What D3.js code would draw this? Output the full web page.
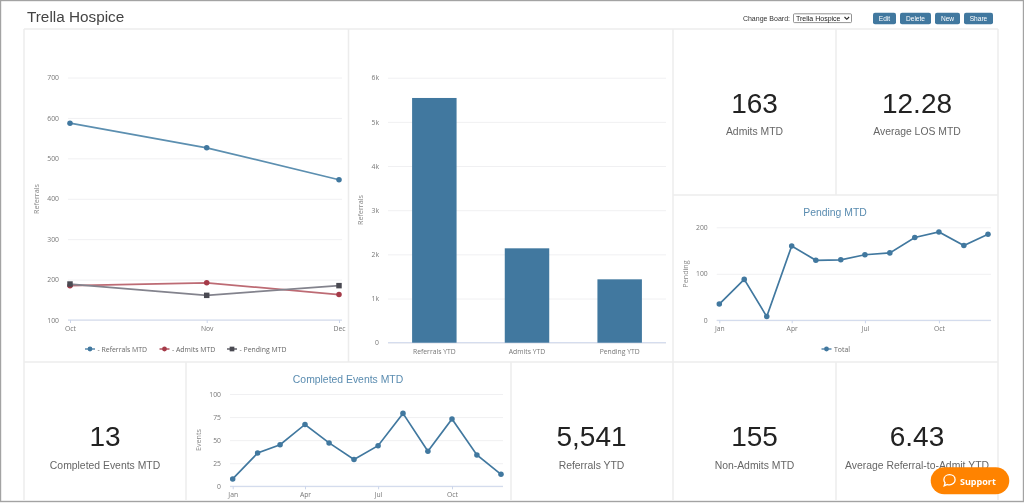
<!DOCTYPE html>
<html>
<head>
<meta charset="utf-8">
<title>Trella Hospice</title>
<script src="https://cdn.jsdelivr.net/npm/d3@7"></script>
<style>
  html, body { margin: 0; padding: 0; background: #fff; overflow: hidden; }
  svg { display: block; font-family: "Liberation Sans", Arial, sans-serif; filter: blur(0.3px); }
  .axis text { font-family: "Open Sans", sans-serif; font-size: 6.8px; fill: #777; }
  .axis-title { font-family: "Open Sans", sans-serif; font-size: 7.2px; fill: #888; text-anchor: middle; }
  .legend { font-family: "Open Sans", sans-serif; font-size: 6.9px; fill: #666; }
</style>
</head>
<body>
<div id="board"></div>
<script>
// Data
const monthsShort = ["2023-10-01", "2023-11-01", "2023-12-01"];
const referralsMtd = [587, 526, 447];
const admitsMtd = [185, 192, 163];
const pendingMtd = [189, 161, 185];

const ytdLabels = ["Referrals YTD", "Admits YTD", "Pending YTD"];
const ytdValues = [5541, 2137, 1435];
const ytdTicks = [0, 1000, 2000, 3000, 4000, 5000, 6000];

const monthsYear = ["2023-01-01", "2023-02-01", "2023-03-01", "2023-04-01", "2023-05-01", "2023-06-01",
  "2023-07-01", "2023-08-01", "2023-09-01", "2023-10-01", "2023-11-01", "2023-12-01"];
const pendingYear = [35, 88, 8, 160, 129, 130, 141, 145, 178, 190, 161, 185];
const eventsYear = [8, 36, 45, 67, 47, 29, 44, 79, 38, 73, 34, 13];

const tileValues = ["163", "12.28", "13", "5,541", "155", "6.43"];
const tileLabels = ["Admits MTD", "Average LOS MTD", "Completed Events MTD", "Referrals YTD", "Non-Admits MTD", "Average Referral-to-Admit YTD"];
const buttonLabels = ["Edit", "Delete", "New", "Share"];

const blue = "#41789f";
const red = "#a53a48";
const dark = "#4a4a52";
const gridColor = "#f0f0f2";
const axisColor = "#ccd6eb";
const edge = "#ececec";

const parseDay = d3.timeParse("%Y-%m-%d");

const svg = d3.select("#board").append("svg")
  .attr("width", 1024)
  .attr("height", 503);

// Frame and panel borders
svg.append("rect").attr("x", 0.5).attr("y", 0.5).attr("width", 1023).attr("height", 501)
  .attr("fill", "#fff").attr("stroke", "#a3a3a3").attr("stroke-width", 1.4);

const panelLines = [
  [24, 29, 998, 29], [24, 362, 998, 362], [673, 195, 998, 195], [24, 29, 24, 501], [998, 29, 998, 501],
  [348.5, 29, 348.5, 362], [673, 29, 673, 501], [836, 29, 836, 195], [186, 362, 186, 501], [511, 362, 511, 501], [836, 362, 836, 501]
];
svg.selectAll(".panel-line").data(panelLines).enter().append("line")
  .attr("class", "panel-line")
  .attr("x1", d => d[0]).attr("y1", d => d[1]).attr("x2", d => d[2]).attr("y2", d => d[3])
  .attr("stroke", edge).attr("stroke-width", 1.5);

// Header
svg.append("text").attr("x", 27).attr("y", 22).attr("font-size", 15.3).attr("fill", "#444").text("Trella Hospice");
svg.append("text").attr("x", 790).attr("y", 20.5).attr("text-anchor", "end").attr("font-size", 7).attr("fill", "#333").text("Change Board:");
svg.append("rect").attr("x", 793.5).attr("y", 13.8).attr("width", 58).attr("height", 8.8).attr("rx", 1)
  .attr("fill", "#fff").attr("stroke", "#777").attr("stroke-width", 0.8);
svg.append("text").attr("x", 796).attr("y", 20.5).attr("font-size", 7).attr("fill", "#222").text("Trella Hospice");
svg.append("path").attr("d", "M844.5 17l2.3 2.3 2.3-2.3").attr("fill", "none").attr("stroke", "#222").attr("stroke-width", 1.1);

const buttonX = d3.scaleOrdinal().domain(buttonLabels).range([[873, 23], [900, 31], [935, 25], [964, 29]]);
const buttons = svg.selectAll(".btn").data(buttonLabels).enter().append("g").attr("class", "btn");
buttons.append("rect")
  .attr("x", d => buttonX(d)[0]).attr("y", 12.7).attr("width", d => buttonX(d)[1]).attr("height", 11.6).attr("rx", 2)
  .attr("fill", blue);
buttons.append("text")
  .attr("x", d => buttonX(d)[0] + buttonX(d)[1] / 2).attr("y", 20.8).attr("text-anchor", "middle")
  .attr("font-size", 6.6).attr("fill", "#fff").text(d => d);

// Number tiles
const tileX = [754.5, 917, 105, 591.5, 754.5, 917];
const tileY = [103, 103, 436.5, 436.5, 436.5, 436.5];
tileValues.forEach((v, i) => {
  svg.append("text").attr("x", tileX[i]).attr("y", tileY[i] + 9.5).attr("text-anchor", "middle")
    .attr("font-size", 28).attr("fill", "#222").text(v);
  svg.append("text").attr("x", tileX[i]).attr("y", tileY[i] + 32).attr("text-anchor", "middle")
    .attr("font-size", 10.4).attr("fill", "#666").text(tileLabels[i]);
});

// Shared y axis with grid lines
function drawYAxis(y, left, right, ticks, format) {
  const g = svg.append("g").attr("class", "axis").attr("transform", `translate(${left},0)`)
    .call(d3.axisLeft(y).tickValues(ticks).tickSize(-(right - left)).tickPadding(9).tickFormat(format));
  g.select(".domain").remove();
  g.selectAll(".tick line").attr("stroke", gridColor);
}

function drawBaseline(left, right, yPos) {
  svg.append("line").attr("x1", left).attr("x2", right).attr("y1", yPos).attr("y2", yPos)
    .attr("stroke", axisColor);
}

function drawTimeAxis(x, yPos, ticks) {
  const g = svg.append("g").attr("class", "axis").attr("transform", `translate(0,${yPos})`)
    .call(d3.axisBottom(x).tickValues(ticks).tickSize(3).tickPadding(3).tickFormat(d3.timeFormat("%b")));
  g.select(".domain").remove();
  g.selectAll(".tick line").attr("stroke", axisColor);
}

function axisTitle(label, xPos, yPos) {
  svg.append("text").attr("class", "axis-title")
    .attr("transform", `translate(${xPos},${yPos}) rotate(-90)`).text(label);
}

function drawLine(dates, values, x, y, color, lineColor, square) {
  const line = d3.line().x((d, i) => x(dates[i])).y(d => y(d));
  svg.append("path").datum(values).attr("d", line).attr("fill", "none")
    .attr("stroke", lineColor).attr("stroke-width", 1.7);
  const symbol = d3.symbol().type(square ? d3.symbolSquare : d3.symbolCircle).size(square ? 30 : 24);
  svg.selectAll(null).data(values).enter().append("path")
    .attr("d", symbol)
    .attr("transform", (d, i) => `translate(${x(dates[i])},${y(d)})`)
    .attr("fill", color);
}

function legendItem(xPos, yPos, label, color, square) {
  svg.append("line").attr("x1", xPos).attr("x2", xPos + 10).attr("y1", yPos).attr("y2", yPos)
    .attr("stroke", color).attr("stroke-width", 1.3);
  svg.append("path").attr("d", d3.symbol().type(square ? d3.symbolSquare : d3.symbolCircle).size(square ? 22 : 18))
    .attr("transform", `translate(${xPos + 5},${yPos})`).attr("fill", color);
  svg.append("text").attr("class", "legend").attr("x", xPos + 12.5).attr("y", yPos + 2.5).text(label);
}

// Referrals / Admits / Pending MTD
const datesShort = monthsShort.map(parseDay);
const xShort = d3.scaleTime().domain(d3.extent(datesShort)).range([70, 339]);
const yShort = d3.scaleLinear().domain([100, 700]).range([320, 77.5]);
drawYAxis(yShort, 68, 342, [100, 200, 300, 400, 500, 600, 700], d3.format("d"));
drawBaseline(68, 342, 320);
drawTimeAxis(xShort, 320, datesShort);
axisTitle("Referrals", 38.5, 199);
drawLine(datesShort, referralsMtd, xShort, yShort, blue, "#5c8fb0", false);
drawLine(datesShort, admitsMtd, xShort, yShort, red, "#bd6b74", false);
drawLine(datesShort, pendingMtd, xShort, yShort, dark, "#83838d", true);
legendItem(85, 349, "- Referrals MTD", blue, false);
legendItem(159.5, 349, "- Admits MTD", red, false);
legendItem(227, 349, "- Pending MTD", dark, true);

// YTD bars
const xBar = d3.scaleBand().domain(ytdLabels).range([388, 666]).paddingInner(0.52).paddingOuter(0.26);
const yBar = d3.scaleLinear().domain([0, 6000]).range([342.7, 77.7]);
drawYAxis(yBar, 388, 666, ytdTicks, d => d === 0 ? "0" : (d / 1000) + "k");
drawBaseline(388, 666, 342.7);
const barAxis = svg.append("g").attr("class", "axis").attr("transform", "translate(0,342.7)")
  .call(d3.axisBottom(xBar).tickSize(0).tickPadding(6));
barAxis.select(".domain").remove();
axisTitle("Referrals", 363, 210);
svg.selectAll(".bar").data(ytdValues).enter().append("rect")
  .attr("class", "bar")
  .attr("x", (d, i) => xBar(ytdLabels[i]))
  .attr("y", d => yBar(d))
  .attr("width", xBar.bandwidth())
  .attr("height", d => yBar(0) - yBar(d))
  .attr("fill", blue);

// Monthly charts
const datesYear = monthsYear.map(parseDay);
const quarterTicks = [datesYear[0], datesYear[3], datesYear[6], datesYear[9]];

const xPending = d3.scaleTime().domain(d3.extent(datesYear)).range([719.3, 988]);
const yPending = d3.scaleLinear().domain([0, 200]).range([320.3, 227.3]);
drawYAxis(yPending, 716.7, 991, [0, 100, 200], d3.format("d"));
drawBaseline(716.7, 991, 320.3);
drawTimeAxis(xPending, 320.3, quarterTicks);
axisTitle("Pending", 688, 274);
drawLine(datesYear, pendingYear, xPending, yPending, blue, blue, false);
legendItem(821.5, 349, "Total", blue, false);
svg.append("text").attr("x", 835).attr("y", 216).attr("text-anchor", "middle")
  .attr("font-size", 10.4).attr("fill", "#5a8cb0").text("Pending MTD");

const xEvents = d3.scaleTime().domain(d3.extent(datesYear)).range([232.7, 501]);
const yEvents = d3.scaleLinear().domain([0, 100]).range([486.3, 394]);
drawYAxis(yEvents, 230, 503, [0, 25, 50, 75, 100], d3.format("d"));
drawBaseline(230, 503, 486.3);
drawTimeAxis(xEvents, 486.3, quarterTicks);
axisTitle("Events", 201, 440);
drawLine(datesYear, eventsYear, xEvents, yEvents, blue, blue, false);
svg.append("text").attr("x", 348).attr("y", 383).attr("text-anchor", "middle")
  .attr("font-size", 10.4).attr("fill", "#5a8cb0").text("Completed Events MTD");

// Support button
svg.append("rect").attr("x", 930.7).attr("y", 467.3).attr("width", 78.6).attr("height", 27).attr("rx", 13.5).attr("fill", "#ff8300");
svg.append("path")
  .attr("d", "M949.5 474.7c-3.2 0-5.6 2.2-5.6 5 0 1.2.5 2.3 1.2 3.1l-.9 3.1 3.2-1.4c.7.2 1.4.3 2.1.3 3.1 0 5.6-2.2 5.6-5.1s-2.5-5-5.6-5z")
  .attr("fill", "none").attr("stroke", "#fff").attr("stroke-width", 1.3);
svg.append("text").attr("x", 960).attr("y", 484.5).attr("font-family", "Open Sans, sans-serif").attr("font-weight", 700)
  .attr("font-size", 9).attr("fill", "#fff").text("Support");
</script>
</body>
</html>
